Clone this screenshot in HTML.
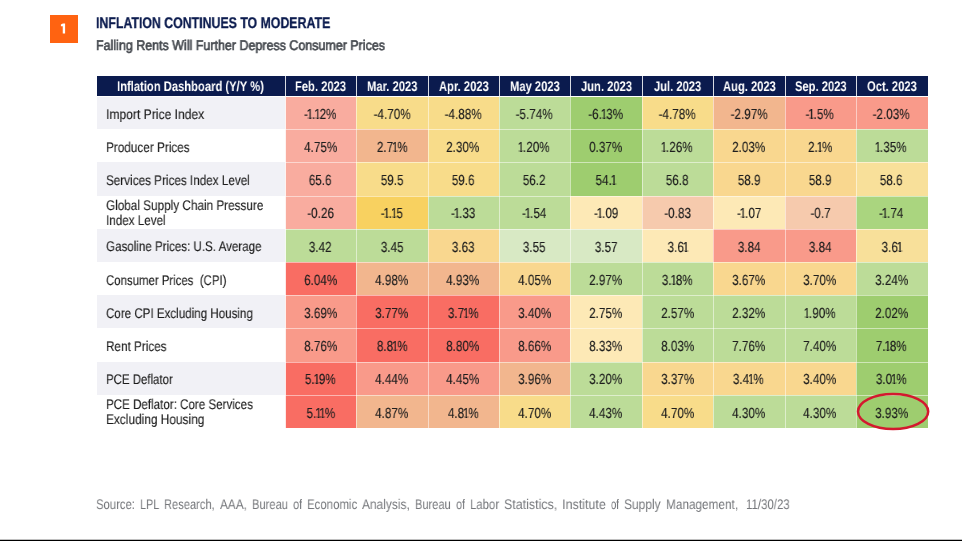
<!DOCTYPE html><html><head><meta charset="utf-8"><style>
html,body{margin:0;padding:0;background:#fff;}
body{width:962px;height:541px;position:relative;overflow:hidden;font-family:"Liberation Sans",sans-serif;text-rendering:geometricPrecision;}
.a{position:absolute;}
.t{position:absolute;white-space:nowrap;transform-origin:0 0;will-change:transform;}
.cell{position:absolute;}
.cv{position:absolute;left:0;right:0;text-align:center;white-space:nowrap;font-size:14.6px;line-height:14.6px;color:#1e1e1e;}
.cv span{display:inline-block;transform:scaleX(0.80);will-change:transform;-webkit-text-stroke:0.15px #1e1e1e;}
.cv i{font-style:normal;margin:0 -1.35px 0 -1.55px;display:inline-block;clip-path:polygon(0 0,100% 0,100% 10.3px,5.4px 10.3px,5.4px 100%,3.25px 100%,3.25px 10.3px,0 10.3px);}
</style></head><body>

<div class="a" style="left:49.5px;top:15px;width:28px;height:28px;background:#ff6311"></div>
<svg class="a" style="left:0;top:0" width="90" height="50"><polygon points="60.9,24.5 62.9,23.6 65.1,23.6 65.1,33.5 62.75,33.5 62.75,26.2 60.9,26.2" fill="#fff"/></svg>
<div class="t" style="left:96.10px;top:15.68px;font-size:15.5px;line-height:15.5px;transform:scaleX(0.7952);color:#0b1b4e;font-weight:bold;-webkit-text-stroke:0.3px #0b1b4e;">INFLATION CONTINUES TO MODERATE</div>
<div class="t" style="left:96.10px;top:38.15px;font-size:14px;line-height:14px;transform:scaleX(0.8907);color:#464a50;-webkit-text-stroke:0.65px #464a50;">Falling Rents Will Further Depress Consumer Prices</div>
<div class="a" style="left:97px;top:76px;width:831px;height:20px;background:#0b1b4e"></div>
<div class="t" style="left:116.60px;top:79.25px;font-size:14px;line-height:14px;transform:scaleX(0.8009);color:#fff;font-weight:bold;">Inflation Dashboard (Y/Y %)</div>
<div class="a" style="left:285px;top:76px;width:1px;height:20px;background:#d8dbe3"></div>
<div class="t" style="left:295.27px;top:79.25px;font-size:14px;line-height:14px;transform:scaleX(0.8000);color:#fff;font-weight:bold;">Feb. 2023</div>
<div class="a" style="left:356px;top:76px;width:1px;height:20px;background:#d8dbe3"></div>
<div class="t" style="left:366.96px;top:79.25px;font-size:14px;line-height:14px;transform:scaleX(0.8000);color:#fff;font-weight:bold;">Mar. 2023</div>
<div class="a" style="left:428px;top:76px;width:1px;height:20px;background:#d8dbe3"></div>
<div class="t" style="left:438.67px;top:79.25px;font-size:14px;line-height:14px;transform:scaleX(0.8000);color:#fff;font-weight:bold;">Apr. 2023</div>
<div class="a" style="left:499px;top:76px;width:1px;height:20px;background:#d8dbe3"></div>
<div class="t" style="left:510.06px;top:79.25px;font-size:14px;line-height:14px;transform:scaleX(0.8000);color:#fff;font-weight:bold;">May 2023</div>
<div class="a" style="left:570px;top:76px;width:1px;height:20px;background:#d8dbe3"></div>
<div class="t" style="left:580.83px;top:79.25px;font-size:14px;line-height:14px;transform:scaleX(0.8000);color:#fff;font-weight:bold;">Jun. 2023</div>
<div class="a" style="left:642px;top:76px;width:1px;height:20px;background:#d8dbe3"></div>
<div class="t" style="left:654.08px;top:79.25px;font-size:14px;line-height:14px;transform:scaleX(0.8000);color:#fff;font-weight:bold;">Jul. 2023</div>
<div class="a" style="left:713px;top:76px;width:1px;height:20px;background:#d8dbe3"></div>
<div class="t" style="left:722.67px;top:79.25px;font-size:14px;line-height:14px;transform:scaleX(0.8000);color:#fff;font-weight:bold;">Aug. 2023</div>
<div class="a" style="left:785px;top:76px;width:1px;height:20px;background:#d8dbe3"></div>
<div class="t" style="left:794.68px;top:79.25px;font-size:14px;line-height:14px;transform:scaleX(0.8000);color:#fff;font-weight:bold;">Sep. 2023</div>
<div class="a" style="left:856px;top:76px;width:1px;height:20px;background:#d8dbe3"></div>
<div class="t" style="left:867.01px;top:79.25px;font-size:14px;line-height:14px;transform:scaleX(0.8000);color:#fff;font-weight:bold;">Oct. 2023</div>
<div class="a" style="left:97px;top:97px;width:188px;height:32px;background:#f1f1f6"></div>
<div class="a" style="left:285px;top:97px;width:71px;height:32px;background:#f9ac9f"></div>
<div class="a" style="left:356px;top:97px;width:72px;height:32px;background:#f8dc8a"></div>
<div class="a" style="left:428px;top:97px;width:71px;height:32px;background:#f8dc8a"></div>
<div class="a" style="left:499px;top:97px;width:71px;height:32px;background:#bcdc98"></div>
<div class="a" style="left:570px;top:97px;width:72px;height:32px;background:#9ecd6f"></div>
<div class="a" style="left:642px;top:97px;width:71px;height:32px;background:#f8dc8a"></div>
<div class="a" style="left:713px;top:97px;width:72px;height:32px;background:#f2b68e"></div>
<div class="a" style="left:785px;top:97px;width:71px;height:32px;background:#f99a8a"></div>
<div class="a" style="left:856px;top:97px;width:72px;height:32px;background:#f99a8a"></div>
<div class="t" style="left:105.90px;top:106.85px;font-size:14px;line-height:14px;transform:scaleX(0.8649);color:#1c1c1c;-webkit-text-stroke:0.12px #1c1c1c;">Import Price Index</div>
<div class="cv" style="left:285.20px;width:70.39px;top:107.74px;right:auto"><span>-<i>1</i>.<i>1</i>2%</span></div>
<div class="cv" style="left:356.59px;width:70.39px;top:107.74px;right:auto"><span>-4.70%</span></div>
<div class="cv" style="left:427.98px;width:70.39px;top:107.74px;right:auto"><span>-4.88%</span></div>
<div class="cv" style="left:499.37px;width:70.39px;top:107.74px;right:auto"><span>-5.74%</span></div>
<div class="cv" style="left:570.76px;width:70.39px;top:107.74px;right:auto"><span>-6.<i>1</i>3%</span></div>
<div class="cv" style="left:642.14px;width:70.39px;top:107.74px;right:auto"><span>-4.78%</span></div>
<div class="cv" style="left:713.53px;width:70.39px;top:107.74px;right:auto"><span>-2.97%</span></div>
<div class="cv" style="left:784.92px;width:70.39px;top:107.74px;right:auto"><span>-<i>1</i>.5%</span></div>
<div class="cv" style="left:856.31px;width:70.39px;top:107.74px;right:auto"><span>-2.03%</span></div>
<div class="a" style="left:97px;top:129px;width:188px;height:33px;background:#ffffff"></div>
<div class="a" style="left:285px;top:129px;width:71px;height:33px;background:#f9ac9f"></div>
<div class="a" style="left:356px;top:129px;width:72px;height:33px;background:#f2b68e"></div>
<div class="a" style="left:428px;top:129px;width:71px;height:33px;background:#f8dc8a"></div>
<div class="a" style="left:499px;top:129px;width:71px;height:33px;background:#bcdc98"></div>
<div class="a" style="left:570px;top:129px;width:72px;height:33px;background:#9ecd6f"></div>
<div class="a" style="left:642px;top:129px;width:71px;height:33px;background:#bcdc98"></div>
<div class="a" style="left:713px;top:129px;width:72px;height:33px;background:#f9d78f"></div>
<div class="a" style="left:785px;top:129px;width:71px;height:33px;background:#f9d78f"></div>
<div class="a" style="left:856px;top:129px;width:72px;height:33px;background:#bcdc98"></div>
<div class="t" style="left:105.90px;top:139.99px;font-size:14px;line-height:14px;transform:scaleX(0.8404);color:#1c1c1c;-webkit-text-stroke:0.12px #1c1c1c;">Producer Prices</div>
<div class="cv" style="left:285.20px;width:70.39px;top:140.94px;right:auto"><span>4.75%</span></div>
<div class="cv" style="left:356.59px;width:70.39px;top:140.94px;right:auto"><span>2.7<i>1</i>%</span></div>
<div class="cv" style="left:427.98px;width:70.39px;top:140.94px;right:auto"><span>2.30%</span></div>
<div class="cv" style="left:499.37px;width:70.39px;top:140.94px;right:auto"><span><i>1</i>.20%</span></div>
<div class="cv" style="left:570.76px;width:70.39px;top:140.94px;right:auto"><span>0.37%</span></div>
<div class="cv" style="left:642.14px;width:70.39px;top:140.94px;right:auto"><span><i>1</i>.26%</span></div>
<div class="cv" style="left:713.53px;width:70.39px;top:140.94px;right:auto"><span>2.03%</span></div>
<div class="cv" style="left:784.92px;width:70.39px;top:140.94px;right:auto"><span>2.<i>1</i>%</span></div>
<div class="cv" style="left:856.31px;width:70.39px;top:140.94px;right:auto"><span><i>1</i>.35%</span></div>
<div class="a" style="left:97px;top:162px;width:188px;height:34px;background:#f1f1f6"></div>
<div class="a" style="left:285px;top:162px;width:71px;height:34px;background:#f9ac9f"></div>
<div class="a" style="left:356px;top:162px;width:72px;height:34px;background:#f8dc8a"></div>
<div class="a" style="left:428px;top:162px;width:71px;height:34px;background:#f8dc8a"></div>
<div class="a" style="left:499px;top:162px;width:71px;height:34px;background:#bcdc98"></div>
<div class="a" style="left:570px;top:162px;width:72px;height:34px;background:#9ecd6f"></div>
<div class="a" style="left:642px;top:162px;width:71px;height:34px;background:#bcdc98"></div>
<div class="a" style="left:713px;top:162px;width:72px;height:34px;background:#f9d78f"></div>
<div class="a" style="left:785px;top:162px;width:71px;height:34px;background:#f9d78f"></div>
<div class="a" style="left:856px;top:162px;width:72px;height:34px;background:#f8e09a"></div>
<div class="t" style="left:105.90px;top:173.13px;font-size:14px;line-height:14px;transform:scaleX(0.8369);color:#1c1c1c;-webkit-text-stroke:0.12px #1c1c1c;">Services Prices Index Level</div>
<div class="cv" style="left:285.20px;width:70.39px;top:174.14px;right:auto"><span>65.6</span></div>
<div class="cv" style="left:356.59px;width:70.39px;top:174.14px;right:auto"><span>59.5</span></div>
<div class="cv" style="left:427.98px;width:70.39px;top:174.14px;right:auto"><span>59.6</span></div>
<div class="cv" style="left:499.37px;width:70.39px;top:174.14px;right:auto"><span>56.2</span></div>
<div class="cv" style="left:570.76px;width:70.39px;top:174.14px;right:auto"><span>54.<i>1</i></span></div>
<div class="cv" style="left:642.14px;width:70.39px;top:174.14px;right:auto"><span>56.8</span></div>
<div class="cv" style="left:713.53px;width:70.39px;top:174.14px;right:auto"><span>58.9</span></div>
<div class="cv" style="left:784.92px;width:70.39px;top:174.14px;right:auto"><span>58.9</span></div>
<div class="cv" style="left:856.31px;width:70.39px;top:174.14px;right:auto"><span>58.6</span></div>
<div class="a" style="left:97px;top:196px;width:188px;height:33px;background:#ffffff"></div>
<div class="a" style="left:285px;top:196px;width:71px;height:33px;background:#f9ac9f"></div>
<div class="a" style="left:356px;top:196px;width:72px;height:33px;background:#f8d160"></div>
<div class="a" style="left:428px;top:196px;width:71px;height:33px;background:#bcdc98"></div>
<div class="a" style="left:499px;top:196px;width:71px;height:33px;background:#bcdc98"></div>
<div class="a" style="left:570px;top:196px;width:72px;height:33px;background:#fde9b6"></div>
<div class="a" style="left:642px;top:196px;width:71px;height:33px;background:#f6caad"></div>
<div class="a" style="left:713px;top:196px;width:72px;height:33px;background:#fde9b6"></div>
<div class="a" style="left:785px;top:196px;width:71px;height:33px;background:#f6caad"></div>
<div class="a" style="left:856px;top:196px;width:72px;height:33px;background:#aad57f"></div>
<div class="t" style="left:105.90px;top:198.47px;font-size:14px;line-height:14px;transform:scaleX(0.8392);color:#1c1c1c;-webkit-text-stroke:0.12px #1c1c1c;">Global Supply Chain Pressure</div>
<div class="t" style="left:105.90px;top:212.87px;font-size:14px;line-height:14px;transform:scaleX(0.8324);color:#1c1c1c;-webkit-text-stroke:0.12px #1c1c1c;">Index Level</div>
<div class="cv" style="left:285.20px;width:70.39px;top:207.34px;right:auto"><span>-0.26</span></div>
<div class="cv" style="left:356.59px;width:70.39px;top:207.34px;right:auto"><span>-<i>1</i>.<i>1</i>5</span></div>
<div class="cv" style="left:427.98px;width:70.39px;top:207.34px;right:auto"><span>-<i>1</i>.33</span></div>
<div class="cv" style="left:499.37px;width:70.39px;top:207.34px;right:auto"><span>-<i>1</i>.54</span></div>
<div class="cv" style="left:570.76px;width:70.39px;top:207.34px;right:auto"><span>-<i>1</i>.09</span></div>
<div class="cv" style="left:642.14px;width:70.39px;top:207.34px;right:auto"><span>-0.83</span></div>
<div class="cv" style="left:713.53px;width:70.39px;top:207.34px;right:auto"><span>-<i>1</i>.07</span></div>
<div class="cv" style="left:784.92px;width:70.39px;top:207.34px;right:auto"><span>-0.7</span></div>
<div class="cv" style="left:856.31px;width:70.39px;top:207.34px;right:auto"><span>-<i>1</i>.74</span></div>
<div class="a" style="left:97px;top:229px;width:188px;height:33px;background:#f1f1f6"></div>
<div class="a" style="left:285px;top:229px;width:71px;height:33px;background:#bcdc98"></div>
<div class="a" style="left:356px;top:229px;width:72px;height:33px;background:#bcdc98"></div>
<div class="a" style="left:428px;top:229px;width:71px;height:33px;background:#f9d78f"></div>
<div class="a" style="left:499px;top:229px;width:71px;height:33px;background:#d8e9c4"></div>
<div class="a" style="left:570px;top:229px;width:72px;height:33px;background:#d8e9c4"></div>
<div class="a" style="left:642px;top:229px;width:71px;height:33px;background:#fde9b6"></div>
<div class="a" style="left:713px;top:229px;width:72px;height:33px;background:#f99a8a"></div>
<div class="a" style="left:785px;top:229px;width:71px;height:33px;background:#f99a8a"></div>
<div class="a" style="left:856px;top:229px;width:72px;height:33px;background:#f8e09a"></div>
<div class="t" style="left:105.90px;top:239.41px;font-size:14px;line-height:14px;transform:scaleX(0.8269);color:#1c1c1c;-webkit-text-stroke:0.12px #1c1c1c;">Gasoline Prices: U.S. Average</div>
<div class="cv" style="left:285.20px;width:70.39px;top:240.54px;right:auto"><span>3.42</span></div>
<div class="cv" style="left:356.59px;width:70.39px;top:240.54px;right:auto"><span>3.45</span></div>
<div class="cv" style="left:427.98px;width:70.39px;top:240.54px;right:auto"><span>3.63</span></div>
<div class="cv" style="left:499.37px;width:70.39px;top:240.54px;right:auto"><span>3.55</span></div>
<div class="cv" style="left:570.76px;width:70.39px;top:240.54px;right:auto"><span>3.57</span></div>
<div class="cv" style="left:642.14px;width:70.39px;top:240.54px;right:auto"><span>3.6<i>1</i></span></div>
<div class="cv" style="left:713.53px;width:70.39px;top:240.54px;right:auto"><span>3.84</span></div>
<div class="cv" style="left:784.92px;width:70.39px;top:240.54px;right:auto"><span>3.84</span></div>
<div class="cv" style="left:856.31px;width:70.39px;top:240.54px;right:auto"><span>3.6<i>1</i></span></div>
<div class="a" style="left:97px;top:262px;width:188px;height:33px;background:#ffffff"></div>
<div class="a" style="left:285px;top:262px;width:71px;height:33px;background:#f96d63"></div>
<div class="a" style="left:356px;top:262px;width:72px;height:33px;background:#f2b68e"></div>
<div class="a" style="left:428px;top:262px;width:71px;height:33px;background:#f2b68e"></div>
<div class="a" style="left:499px;top:262px;width:71px;height:33px;background:#f9d78f"></div>
<div class="a" style="left:570px;top:262px;width:72px;height:33px;background:#bcdc98"></div>
<div class="a" style="left:642px;top:262px;width:71px;height:33px;background:#bcdc98"></div>
<div class="a" style="left:713px;top:262px;width:72px;height:33px;background:#f9d78f"></div>
<div class="a" style="left:785px;top:262px;width:71px;height:33px;background:#f9d78f"></div>
<div class="a" style="left:856px;top:262px;width:72px;height:33px;background:#bcdc98"></div>
<div class="t" style="left:105.90px;top:272.55px;font-size:14px;line-height:14px;transform:scaleX(0.8146);color:#1c1c1c;-webkit-text-stroke:0.12px #1c1c1c;">Consumer Prices&nbsp; (CPI)</div>
<div class="cv" style="left:285.20px;width:70.39px;top:273.74px;right:auto"><span>6.04%</span></div>
<div class="cv" style="left:356.59px;width:70.39px;top:273.74px;right:auto"><span>4.98%</span></div>
<div class="cv" style="left:427.98px;width:70.39px;top:273.74px;right:auto"><span>4.93%</span></div>
<div class="cv" style="left:499.37px;width:70.39px;top:273.74px;right:auto"><span>4.05%</span></div>
<div class="cv" style="left:570.76px;width:70.39px;top:273.74px;right:auto"><span>2.97%</span></div>
<div class="cv" style="left:642.14px;width:70.39px;top:273.74px;right:auto"><span>3.<i>1</i>8%</span></div>
<div class="cv" style="left:713.53px;width:70.39px;top:273.74px;right:auto"><span>3.67%</span></div>
<div class="cv" style="left:784.92px;width:70.39px;top:273.74px;right:auto"><span>3.70%</span></div>
<div class="cv" style="left:856.31px;width:70.39px;top:273.74px;right:auto"><span>3.24%</span></div>
<div class="a" style="left:97px;top:295px;width:188px;height:33px;background:#f1f1f6"></div>
<div class="a" style="left:285px;top:295px;width:71px;height:33px;background:#f99a8a"></div>
<div class="a" style="left:356px;top:295px;width:72px;height:33px;background:#f96d63"></div>
<div class="a" style="left:428px;top:295px;width:71px;height:33px;background:#f96d63"></div>
<div class="a" style="left:499px;top:295px;width:71px;height:33px;background:#f99a8a"></div>
<div class="a" style="left:570px;top:295px;width:72px;height:33px;background:#fde9b6"></div>
<div class="a" style="left:642px;top:295px;width:71px;height:33px;background:#bcdc98"></div>
<div class="a" style="left:713px;top:295px;width:72px;height:33px;background:#bcdc98"></div>
<div class="a" style="left:785px;top:295px;width:71px;height:33px;background:#bcdc98"></div>
<div class="a" style="left:856px;top:295px;width:72px;height:33px;background:#9ecd6f"></div>
<div class="t" style="left:105.90px;top:305.69px;font-size:14px;line-height:14px;transform:scaleX(0.8275);color:#1c1c1c;-webkit-text-stroke:0.12px #1c1c1c;">Core CPI Excluding Housing</div>
<div class="cv" style="left:285.20px;width:70.39px;top:306.94px;right:auto"><span>3.69%</span></div>
<div class="cv" style="left:356.59px;width:70.39px;top:306.94px;right:auto"><span>3.77%</span></div>
<div class="cv" style="left:427.98px;width:70.39px;top:306.94px;right:auto"><span>3.7<i>1</i>%</span></div>
<div class="cv" style="left:499.37px;width:70.39px;top:306.94px;right:auto"><span>3.40%</span></div>
<div class="cv" style="left:570.76px;width:70.39px;top:306.94px;right:auto"><span>2.75%</span></div>
<div class="cv" style="left:642.14px;width:70.39px;top:306.94px;right:auto"><span>2.57%</span></div>
<div class="cv" style="left:713.53px;width:70.39px;top:306.94px;right:auto"><span>2.32%</span></div>
<div class="cv" style="left:784.92px;width:70.39px;top:306.94px;right:auto"><span><i>1</i>.90%</span></div>
<div class="cv" style="left:856.31px;width:70.39px;top:306.94px;right:auto"><span>2.02%</span></div>
<div class="a" style="left:97px;top:328px;width:188px;height:34px;background:#ffffff"></div>
<div class="a" style="left:285px;top:328px;width:71px;height:34px;background:#f99a8a"></div>
<div class="a" style="left:356px;top:328px;width:72px;height:34px;background:#f96d63"></div>
<div class="a" style="left:428px;top:328px;width:71px;height:34px;background:#f96d63"></div>
<div class="a" style="left:499px;top:328px;width:71px;height:34px;background:#f99a8a"></div>
<div class="a" style="left:570px;top:328px;width:72px;height:34px;background:#fde9b6"></div>
<div class="a" style="left:642px;top:328px;width:71px;height:34px;background:#bcdc98"></div>
<div class="a" style="left:713px;top:328px;width:72px;height:34px;background:#bcdc98"></div>
<div class="a" style="left:785px;top:328px;width:71px;height:34px;background:#bcdc98"></div>
<div class="a" style="left:856px;top:328px;width:72px;height:34px;background:#9ecd6f"></div>
<div class="t" style="left:105.90px;top:338.83px;font-size:14px;line-height:14px;transform:scaleX(0.8376);color:#1c1c1c;-webkit-text-stroke:0.12px #1c1c1c;">Rent Prices</div>
<div class="cv" style="left:285.20px;width:70.39px;top:340.14px;right:auto"><span>8.76%</span></div>
<div class="cv" style="left:356.59px;width:70.39px;top:340.14px;right:auto"><span>8.8<i>1</i>%</span></div>
<div class="cv" style="left:427.98px;width:70.39px;top:340.14px;right:auto"><span>8.80%</span></div>
<div class="cv" style="left:499.37px;width:70.39px;top:340.14px;right:auto"><span>8.66%</span></div>
<div class="cv" style="left:570.76px;width:70.39px;top:340.14px;right:auto"><span>8.33%</span></div>
<div class="cv" style="left:642.14px;width:70.39px;top:340.14px;right:auto"><span>8.03%</span></div>
<div class="cv" style="left:713.53px;width:70.39px;top:340.14px;right:auto"><span>7.76%</span></div>
<div class="cv" style="left:784.92px;width:70.39px;top:340.14px;right:auto"><span>7.40%</span></div>
<div class="cv" style="left:856.31px;width:70.39px;top:340.14px;right:auto"><span>7.<i>1</i>8%</span></div>
<div class="a" style="left:97px;top:362px;width:188px;height:33px;background:#f1f1f6"></div>
<div class="a" style="left:285px;top:362px;width:71px;height:33px;background:#f96d63"></div>
<div class="a" style="left:356px;top:362px;width:72px;height:33px;background:#f99a8a"></div>
<div class="a" style="left:428px;top:362px;width:71px;height:33px;background:#f99a8a"></div>
<div class="a" style="left:499px;top:362px;width:71px;height:33px;background:#f2b68e"></div>
<div class="a" style="left:570px;top:362px;width:72px;height:33px;background:#bcdc98"></div>
<div class="a" style="left:642px;top:362px;width:71px;height:33px;background:#f9d78f"></div>
<div class="a" style="left:713px;top:362px;width:72px;height:33px;background:#f9d78f"></div>
<div class="a" style="left:785px;top:362px;width:71px;height:33px;background:#f9d78f"></div>
<div class="a" style="left:856px;top:362px;width:72px;height:33px;background:#9ecd6f"></div>
<div class="t" style="left:105.90px;top:371.97px;font-size:14px;line-height:14px;transform:scaleX(0.8176);color:#1c1c1c;-webkit-text-stroke:0.12px #1c1c1c;">PCE Deflator</div>
<div class="cv" style="left:285.20px;width:70.39px;top:373.34px;right:auto"><span>5.<i>1</i>9%</span></div>
<div class="cv" style="left:356.59px;width:70.39px;top:373.34px;right:auto"><span>4.44%</span></div>
<div class="cv" style="left:427.98px;width:70.39px;top:373.34px;right:auto"><span>4.45%</span></div>
<div class="cv" style="left:499.37px;width:70.39px;top:373.34px;right:auto"><span>3.96%</span></div>
<div class="cv" style="left:570.76px;width:70.39px;top:373.34px;right:auto"><span>3.20%</span></div>
<div class="cv" style="left:642.14px;width:70.39px;top:373.34px;right:auto"><span>3.37%</span></div>
<div class="cv" style="left:713.53px;width:70.39px;top:373.34px;right:auto"><span>3.4<i>1</i>%</span></div>
<div class="cv" style="left:784.92px;width:70.39px;top:373.34px;right:auto"><span>3.40%</span></div>
<div class="cv" style="left:856.31px;width:70.39px;top:373.34px;right:auto"><span>3.0<i>1</i>%</span></div>
<div class="a" style="left:97px;top:395px;width:188px;height:33px;background:#ffffff"></div>
<div class="a" style="left:285px;top:395px;width:71px;height:33px;background:#f96d63"></div>
<div class="a" style="left:356px;top:395px;width:72px;height:33px;background:#f2b68e"></div>
<div class="a" style="left:428px;top:395px;width:71px;height:33px;background:#f2b68e"></div>
<div class="a" style="left:499px;top:395px;width:71px;height:33px;background:#f8dc8a"></div>
<div class="a" style="left:570px;top:395px;width:72px;height:33px;background:#bcdc98"></div>
<div class="a" style="left:642px;top:395px;width:71px;height:33px;background:#f8dc8a"></div>
<div class="a" style="left:713px;top:395px;width:72px;height:33px;background:#bcdc98"></div>
<div class="a" style="left:785px;top:395px;width:71px;height:33px;background:#bcdc98"></div>
<div class="a" style="left:856px;top:395px;width:72px;height:33px;background:#9ecd6f"></div>
<div class="t" style="left:105.90px;top:397.31px;font-size:14px;line-height:14px;transform:scaleX(0.8281);color:#1c1c1c;-webkit-text-stroke:0.12px #1c1c1c;">PCE Deflator: Core Services</div>
<div class="t" style="left:105.90px;top:411.71px;font-size:14px;line-height:14px;transform:scaleX(0.8478);color:#1c1c1c;-webkit-text-stroke:0.12px #1c1c1c;">Excluding Housing</div>
<div class="cv" style="left:285.20px;width:70.39px;top:406.54px;right:auto"><span>5.<i>1</i><i>1</i>%</span></div>
<div class="cv" style="left:356.59px;width:70.39px;top:406.54px;right:auto"><span>4.87%</span></div>
<div class="cv" style="left:427.98px;width:70.39px;top:406.54px;right:auto"><span>4.8<i>1</i>%</span></div>
<div class="cv" style="left:499.37px;width:70.39px;top:406.54px;right:auto"><span>4.70%</span></div>
<div class="cv" style="left:570.76px;width:70.39px;top:406.54px;right:auto"><span>4.43%</span></div>
<div class="cv" style="left:642.14px;width:70.39px;top:406.54px;right:auto"><span>4.70%</span></div>
<div class="cv" style="left:713.53px;width:70.39px;top:406.54px;right:auto"><span>4.30%</span></div>
<div class="cv" style="left:784.92px;width:70.39px;top:406.54px;right:auto"><span>4.30%</span></div>
<div class="cv" style="left:856.31px;width:70.39px;top:406.54px;right:auto"><span>3.93%</span></div>
<div class="a" style="left:285px;top:129px;width:643px;height:1px;background:#fff;opacity:0.5"></div>
<div class="a" style="left:285px;top:162px;width:643px;height:1px;background:#fff;opacity:0.5"></div>
<div class="a" style="left:285px;top:196px;width:643px;height:1px;background:#fff;opacity:0.5"></div>
<div class="a" style="left:285px;top:229px;width:643px;height:1px;background:#fff;opacity:0.5"></div>
<div class="a" style="left:285px;top:262px;width:643px;height:1px;background:#fff;opacity:0.5"></div>
<div class="a" style="left:285px;top:295px;width:643px;height:1px;background:#fff;opacity:0.5"></div>
<div class="a" style="left:285px;top:328px;width:643px;height:1px;background:#fff;opacity:0.5"></div>
<div class="a" style="left:285px;top:362px;width:643px;height:1px;background:#fff;opacity:0.5"></div>
<div class="a" style="left:285px;top:395px;width:643px;height:1px;background:#fff;opacity:0.5"></div>
<div class="a" style="left:356px;top:97px;width:1px;height:331px;background:#fff;opacity:0.5"></div>
<div class="a" style="left:428px;top:97px;width:1px;height:331px;background:#fff;opacity:0.5"></div>
<div class="a" style="left:499px;top:97px;width:1px;height:331px;background:#fff;opacity:0.5"></div>
<div class="a" style="left:570px;top:97px;width:1px;height:331px;background:#fff;opacity:0.5"></div>
<div class="a" style="left:642px;top:97px;width:1px;height:331px;background:#fff;opacity:0.5"></div>
<div class="a" style="left:713px;top:97px;width:1px;height:331px;background:#fff;opacity:0.5"></div>
<div class="a" style="left:785px;top:97px;width:1px;height:331px;background:#fff;opacity:0.5"></div>
<div class="a" style="left:856px;top:97px;width:1px;height:331px;background:#fff;opacity:0.5"></div>
<div class="a" style="left:285px;top:97px;width:1px;height:331px;background:#fff;opacity:0.85"></div>
<svg class="a" style="left:845px;top:385px" width="95" height="55"><ellipse cx="48.1" cy="26.5" rx="35.1" ry="17.6" fill="none" stroke="#d3192e" stroke-width="2.5"/></svg>
<div class="t" style="left:95.80px;top:496.65px;font-size:14px;line-height:14px;transform:scaleX(0.8083);color:#76787c;">Source:</div>
<div class="t" style="left:139.80px;top:496.65px;font-size:14px;line-height:14px;transform:scaleX(0.7751);color:#76787c;">LPL</div>
<div class="t" style="left:164.10px;top:496.65px;font-size:14px;line-height:14px;transform:scaleX(0.7931);color:#76787c;">Research,</div>
<div class="t" style="left:219.70px;top:496.65px;font-size:14px;line-height:14px;transform:scaleX(0.8433);color:#76787c;">AAA,</div>
<div class="t" style="left:251.60px;top:496.65px;font-size:14px;line-height:14px;transform:scaleX(0.7996);color:#76787c;">Bureau</div>
<div class="t" style="left:292.70px;top:496.65px;font-size:14px;line-height:14px;transform:scaleX(0.7915);color:#76787c;">of</div>
<div class="t" style="left:307.00px;top:496.65px;font-size:14px;line-height:14px;transform:scaleX(0.8169);color:#76787c;">Economic</div>
<div class="t" style="left:362.20px;top:496.65px;font-size:14px;line-height:14px;transform:scaleX(0.8518);color:#76787c;">Analysis,</div>
<div class="t" style="left:414.90px;top:496.65px;font-size:14px;line-height:14px;transform:scaleX(0.7929);color:#76787c;">Bureau</div>
<div class="t" style="left:455.70px;top:496.65px;font-size:14px;line-height:14px;transform:scaleX(0.7745);color:#76787c;">of</div>
<div class="t" style="left:469.80px;top:496.65px;font-size:14px;line-height:14px;transform:scaleX(0.8128);color:#76787c;">Labor</div>
<div class="t" style="left:503.90px;top:496.65px;font-size:14px;line-height:14px;transform:scaleX(0.8881);color:#76787c;">Statistics,</div>
<div class="t" style="left:562.10px;top:496.65px;font-size:14px;line-height:14px;transform:scaleX(0.8950);color:#76787c;">Institute</div>
<div class="t" style="left:611.00px;top:496.65px;font-size:14px;line-height:14px;transform:scaleX(0.6809);color:#76787c;">of</div>
<div class="t" style="left:624.00px;top:496.65px;font-size:14px;line-height:14px;transform:scaleX(0.8551);color:#76787c;">Supply</div>
<div class="t" style="left:665.60px;top:496.65px;font-size:14px;line-height:14px;transform:scaleX(0.8423);color:#76787c;">Management,</div>
<div class="t" style="left:745.80px;top:496.65px;font-size:14px;line-height:14px;transform:scaleX(0.8157);color:#76787c;">11/30/23</div>
<div class="a" style="left:0;top:539px;width:962px;height:1px;background:#c0c0c0"></div>
<div class="a" style="left:0;top:540px;width:962px;height:1px;background:#000"></div>
</body></html>
